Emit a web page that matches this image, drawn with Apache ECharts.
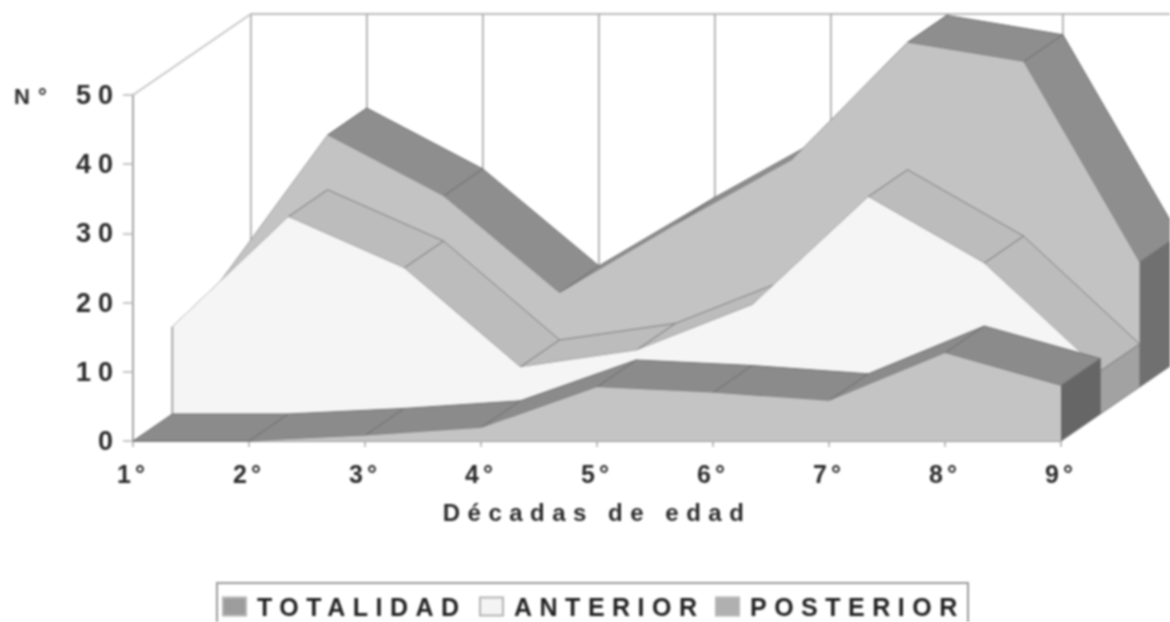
<!DOCTYPE html>
<html>
<head>
<meta charset="utf-8">
<script src="https://cdn.jsdelivr.net/npm/echarts@6/dist/echarts.min.js"></script>
<style>
  html, body { margin: 0; padding: 0; background: #fff; }
  #chart { width: 1170px; height: 622px; filter: blur(0.8px); }
</style>
</head>
<body>
<div id="chart"></div>
<script>
const decades = ["1°", "2°", "3°", "4°", "5°", "6°", "7°", "8°", "9°"];
const totalidad = [13.5, 36.4, 27.6, 13.6, 23.5, 32.8, 49.8, 47, 18];
const anterior = [12.6, 28.5, 21.1, 6.8, 9.2, 15.8, 31.4, 21.8, 6.2];
const posterior = [0, 0, 0.8, 1.9, 7.8, 7, 5.8, 12.7, 8];
const yTicks = { min: 0, max: 50, interval: 10 };

const FONT = "Liberation Sans";
const DEPTH_X = 39.3; // one series row going back
const DEPTH_Y = -27;
const xName = "Décadas de edad";

const rows = [
  { name: "TOTALIDAD", legendLeft: 222, values: totalidad, depth: 2, front: "#c3c3c3", top: "#8e8e8e", cap: "#707070", swatch: "#9c9c9c", edge: "#6f6f6f" },
  { name: "ANTERIOR", legendLeft: 479, values: anterior, depth: 1, front: "#f5f5f5", top: "#bcbcbc", cap: "#a2a2a2", swatch: "#f4f4f4", edge: "#7f7f7f" },
  { name: "POSTERIOR", legendLeft: 715, values: posterior, depth: 0, front: "#c4c4c4", top: "#8b8b8b", cap: "#666666", swatch: "#b0b0b0", edge: "#6f6f6f" },
];

// moves a point from the front plane to a row further back
function project(api, i, v, depth) {
  const p = api.coord([i, v]);
  return [p[0] + depth * DEPTH_X, p[1] + depth * DEPTH_Y];
}

function renderRow(row) {
  return function (params, api) {
    const i = params.dataIndex;
    const last = row.values.length - 1;
    const d = row.depth;
    const children = [];
    if (i < last) {
      // top strip of this segment
      children.push({
        type: "polygon",
        shape: {
          points: [
            project(api, i, row.values[i], d),
            project(api, i + 1, row.values[i + 1], d),
            project(api, i + 1, row.values[i + 1], d + 1),
            project(api, i, row.values[i], d + 1),
          ],
        },
        style: { fill: row.top, stroke: row.edge, lineWidth: 1 },
      });
    } else {
      // end cap, then the whole front face on top
      children.push({
        type: "polygon",
        shape: {
          points: [
            project(api, last, row.values[last], d),
            project(api, last, row.values[last], d + 1),
            project(api, last, 0, d + 1),
            project(api, last, 0, d),
          ],
        },
        style: { fill: row.cap, stroke: row.edge, lineWidth: 1 },
      });
      const pts = row.values.map((v, k) => project(api, k, v, d));
      pts.push(project(api, last, 0, d), project(api, 0, 0, d));
      children.push({
        type: "polygon",
        shape: { points: pts },
        style: { fill: row.front },
      });
      children.push({
        type: "line",
        shape: (function () {
          const a = project(api, 0, row.values[0], d);
          const b = project(api, 0, 0, d);
          return { x1: a[0], y1: a[1], x2: b[0], y2: b[1] };
        })(),
        style: { stroke: "#a8a8a8", lineWidth: 2 },
      });
    }
    return { type: "group", children: children };
  };
}

// back wall: one vertical per decade, the top rail and the side rail
function renderWall(params, api) {
  const i = params.dataIndex;
  const back = 3;
  const top = project(api, i, yTicks.max, back);
  const bottom = project(api, i, 0, back);
  const children = [
    { type: "line", shape: { x1: top[0], y1: top[1], x2: bottom[0], y2: bottom[1] }, style: { stroke: "#a6a6a6", lineWidth: 1.6 } },
  ];
  if (i === 0) {
    const corner = api.coord([0, yTicks.max]);
    const end = project(api, decades.length - 1, yTicks.max, back);
    children.push({ type: "line", shape: { x1: corner[0], y1: corner[1], x2: top[0], y2: top[1] }, style: { stroke: "#c4c4c4", lineWidth: 1.6 } });
    children.push({ type: "line", shape: { x1: top[0], y1: top[1], x2: end[0], y2: end[1] }, style: { stroke: "#a6a6a6", lineWidth: 1.6 } });
  }
  return { type: "group", children: children };
}

const option = {
  animation: false,
  backgroundColor: "#fff",
  grid: { left: 133, right: 109, top: 95, height: 346 },
  xAxis: {
    type: "category",
    data: decades,
    boundaryGap: false,
    name: xName,
    nameLocation: "middle",
    nameGap: 59,
    nameTextStyle: { fontFamily: FONT, fontWeight: "bold", fontSize: 24, color: "#2b2b2b" },
    axisLine: { lineStyle: { color: "#9a9a9a", width: 2 } },
    axisTick: { length: 6, lineStyle: { color: "#a8a8a8", width: 1.5 } },
    axisLabel: { margin: 20, fontFamily: FONT, fontWeight: "bold", fontSize: 25, color: "#2b2b2b" },
  },
  yAxis: {
    type: "value",
    min: yTicks.min,
    max: yTicks.max,
    interval: yTicks.interval,
    name: "N°",
    nameLocation: "end",
    nameGap: -12,
    nameTextStyle: { fontFamily: FONT, fontWeight: "bold", fontSize: 22, color: "#2b2b2b", align: "left", padding: [0, 0, 0, -119] },
    splitLine: { show: false },
    axisLine: { show: true, lineStyle: { color: "#a6a6a6", width: 2 } },
    axisTick: { show: true, length: 10, lineStyle: { color: "#b4b4b4", width: 1.5 } },
    axisLabel: { margin: 13, fontFamily: FONT, fontWeight: "bold", fontSize: 27, color: "#2b2b2b" },
  },
  // legend frame, runs off the bottom of the page like the original
  graphic: [
    {
      type: "rect",
      left: 216,
      top: 582,
      shape: { width: 751, height: 60 },
      style: { fill: "#fff", stroke: "#9a9a9a", lineWidth: 2 },
      silent: true,
    },
  ],
  // one legend per word: the wide tracking is not measured by the layout
  legend: rows.map((r) => ({
    left: r.legendLeft,
    top: 594,
    padding: 0,
    itemWidth: 23,
    itemHeight: 18,
    icon: "rect",
    data: [r.name],
    textStyle: { fontFamily: FONT, fontWeight: "bold", fontSize: 25, color: "#222", padding: [0, 0, 0, 6] },
  })),
  series: [
    {
      type: "custom",
      silent: true,
      coordinateSystem: "cartesian2d",
      renderItem: renderWall,
      data: decades.map((d, i) => [i, yTicks.max]),
      z: 1,
    },
  ].concat(
    rows.map((row, k) => ({
      type: "custom",
      name: row.name,
      silent: true,
      coordinateSystem: "cartesian2d",
      renderItem: renderRow(row),
      itemStyle: { color: row.swatch, borderColor: "#b4b4b4", borderWidth: 1 },
      data: row.values.map((v, i) => [i, v]),
      z: 2 + k,
    }))
  ),
};

const chart = echarts.init(document.getElementById("chart"), null, { renderer: "svg" });
chart.setOption(option);

// the original has very wide tracking, the svg text takes it from css
function track() {
  document.querySelectorAll("#chart svg text").forEach((el) => {
    const t = el.textContent;
    let gap = "4px";
    if (t === xName) gap = "7.5px";
    else if (rows.some((r) => r.name === t)) gap = "7.5px";
    else if (/^\d+$/.test(t)) gap = "7px";
    else if (t === "N°") gap = "8px";
    el.style.letterSpacing = gap;
  });
}
chart.on("finished", track);
track();
</script>
</body>
</html>
